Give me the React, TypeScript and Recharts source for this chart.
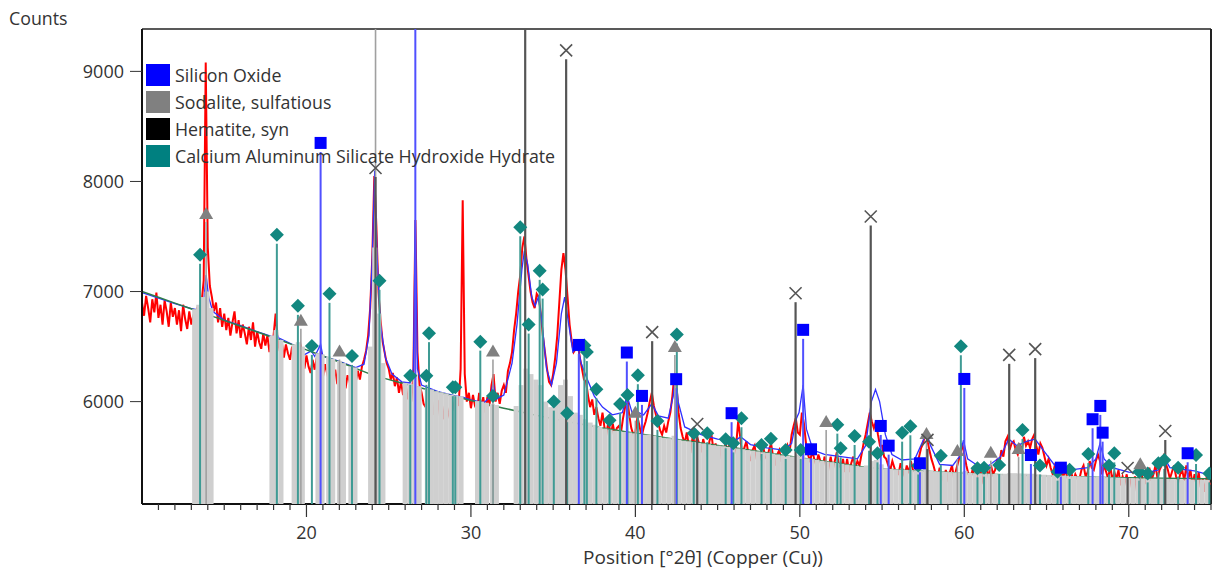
import { ComposedChart, Line, Scatter, XAxis, YAxis, ReferenceLine } from "recharts";

const WIDTH = 1217;
const HEIGHT = 574;
const MARGIN = { top: 29, right: 6, bottom: 0, left: 0 };
const Y_AXIS_W = 142;
const X_AXIS_H = 70;
const PLOT_TOP = MARGIN.top;
const PLOT_BOTTOM = HEIGHT - MARGIN.bottom - X_AXIS_H;

const X_MIN = 10;
const X_MAX = 75;
const Y_MIN = 5070;
const Y_MAX = 9385;

const FONT = "'Open Sans', 'Noto Sans', sans-serif";

const Y_TICKS = [6000, 7000, 8000, 9000];
const X_LABELS = [20, 30, 40, 50, 60, 70];
const X_TICKS = [
  11, 12, 13, 14, 15, 16, 17, 18, 19, 20, 21, 22, 23, 24, 25, 26, 27, 28, 29, 30,
  31, 32, 33, 34, 35, 36, 37, 38, 39, 40, 41, 42, 43, 44, 45, 46, 47, 48, 49, 50,
  51, 52, 53, 54, 55, 56, 57, 58, 59, 60, 61, 62, 63, 64, 65, 66, 67, 68, 69, 70,
  71, 72, 73, 74, 75,
];

// measured scan: starts at 10 deg, one reading every 0.125 deg (8 per row = 1 deg)
const SCAN_START = 10;
const SCAN_STEP = 0.125;
const scanCounts = [
  6900, 6780, 6960, 6850, 6720, 6930, 6810, 6990,
  6760, 6880, 6700, 6920, 6820, 6680, 6900, 6770,
  6850, 6700, 6830, 6640, 6880, 6750, 6660, 6820,
  6700, 6790, 6650, 6860, 6760, 6900, 7100, 9080,
  7400, 7050, 6950, 6820, 6900, 6720, 6850, 6680,
  6800, 6650, 6760, 6600, 6720, 6820, 6620, 6740,
  6580, 6700, 6620, 6520, 6680, 6560, 6720, 6500,
  6640, 6540, 6480, 6620, 6510, 6600, 6450, 6560,
  6600, 6800, 6560, 6460, 6540, 6400, 6520, 6440,
  6380, 6500, 6420, 6330, 6480, 6520, 6380, 6300,
  6420, 6320, 6260, 6380, 6290, 6400, 6240, 6460,
  6220, 6340, 6260, 6180, 6320, 6200, 6290, 6160,
  6300, 6150, 6260, 6120, 6240, 6180, 6100, 6250,
  6180, 6280, 6200, 6320, 6380, 6460, 6600, 6850,
  7300, 8050, 7600, 7000, 6750, 6550, 6450, 6350,
  6300, 6200, 6260, 6140, 6220, 6080, 6180, 6060,
  6120, 6020, 6150, 6000, 6250, 7650, 6450, 6150,
  6080, 5980, 5950, 6060, 5900, 6020, 5880, 5980,
  6000, 5860, 5960, 5840, 5980, 5900, 5830, 6000,
  5920, 6020, 5960, 6300, 7830, 6250, 6000, 6080,
  5940, 6060, 5960, 5920, 6080, 5950, 6040, 5900,
  6040, 5960, 6150, 6250, 6000, 6080, 5980, 6100,
  6150, 6080, 6280, 6350, 6450, 6650, 6800, 7000,
  7150, 7400, 7500, 7300, 7150, 7000, 6900, 6850,
  6980, 6950, 6800, 6600, 6450, 6300, 6180, 6150,
  6250, 6400, 6600, 6900, 7200, 7350, 7200, 6950,
  6700, 6550, 6450, 6480, 6520, 6400, 6300, 6200,
  6180, 6050, 5950, 6020, 5880, 5950, 5850, 5780,
  5900, 5760, 5720, 5830, 5680, 5800, 5700, 5760,
  5780, 5720, 5850, 5950, 6050, 5880, 5760, 5700,
  5720, 5860, 5780, 5680, 5760, 5820, 5900, 6000,
  6080, 5960, 5880, 5820, 5740, 5700, 5780, 5720,
  5820, 5900, 6050, 6250, 6150, 5900, 5760, 5680,
  5620, 5720, 5600, 5560, 5700, 5580, 5680, 5620,
  5540, 5660, 5580, 5500, 5640, 5700, 5560, 5620,
  5520, 5600, 5480, 5560, 5620, 5480, 5680, 5560,
  5520, 5600, 5820, 5680, 5500, 5580, 5640, 5520,
  5460, 5560, 5600, 5480, 5440, 5540, 5620, 5500,
  5480, 5560, 5620, 5500, 5420, 5520, 5560, 5460,
  5460, 5520, 5600, 5540, 5700, 5780, 5850, 5720,
  5700, 5900, 5800, 5620, 5520, 5450, 5560, 5480,
  5420, 5520, 5460, 5380, 5500, 5440, 5400, 5500,
  5380, 5460, 5540, 5420, 5400, 5480, 5360, 5480,
  5360, 5440, 5500, 5400, 5460, 5420, 5520, 5620,
  5700, 5800, 5900, 5820, 5760, 5820, 5700, 5600,
  5600, 5500, 5480, 5420, 5380, 5460, 5400, 5340,
  5340, 5440, 5380, 5320, 5420, 5350, 5460, 5380,
  5360, 5420, 5500, 5580, 5620, 5720, 5650, 5560,
  5480, 5420, 5350, 5300, 5400, 5320, 5280, 5380,
  5300, 5360, 5420, 5300, 5380, 5450, 5520, 5620,
  5520, 5420, 5340, 5300, 5380, 5320, 5270, 5360,
  5360, 5280, 5340, 5400, 5300, 5420, 5340, 5380,
  5480, 5420, 5560, 5500, 5640, 5680, 5560, 5620,
  5640, 5560, 5520, 5600, 5560, 5680, 5600, 5640,
  5580, 5660, 5700, 5600, 5520, 5620, 5580, 5500,
  5420, 5480, 5400, 5340, 5420, 5380, 5300, 5380,
  5300, 5380, 5320, 5260, 5360, 5280, 5340, 5300,
  5300, 5380, 5420, 5320, 5360, 5460, 5400, 5380,
  5460, 5520, 5460, 5340, 5420, 5360, 5300, 5420,
  5280, 5360, 5300, 5380, 5240, 5320, 5260, 5340,
  5200, 5300, 5240, 5320, 5180, 5280, 5380, 5240,
  5260, 5340, 5400, 5280, 5340, 5420, 5300, 5380,
  5420, 5500, 5440, 5380, 5300, 5360, 5420, 5320,
  5260, 5340, 5380, 5280, 5420, 5300, 5380, 5240,
  5340, 5240, 5360, 5220, 5300, 5180, 5330, 5260,
  5250,
];

// calculated profile
const calculated: [number, number][] = [
  [10, 6990], [12, 6890], [13, 6845], [13.5, 6830], [13.75, 6900], [13.9, 7150], [14.05, 6950],
  [14.3, 6820], [15, 6740], [16, 6690], [17, 6635], [18, 6585], [18.15, 6640], [18.3, 6580],
  [19, 6530], [19.65, 6480], [19.8, 6420], [20.3, 6460], [20.5, 6410], [20.86, 6520], [21.0, 6410],
  [21.5, 6390], [22, 6365], [23, 6310], [23.5, 6340], [23.8, 6600], [24.0, 7300], [24.15, 8100],
  [24.3, 7300], [24.5, 6700], [24.8, 6400], [25.2, 6250], [25.8, 6180], [26.3, 6170], [26.5, 6300],
  [26.62, 7650], [26.75, 6300], [27.0, 6150], [28, 6090], [29, 6055], [29.5, 6040], [30, 6015],
  [30.8, 5990], [31.2, 6050], [31.35, 6180], [31.5, 6020], [32, 6060], [32.5, 6350], [32.8, 6700],
  [33.1, 7200], [33.25, 7370], [33.45, 7250], [33.7, 6950], [33.9, 6870], [34.1, 6950], [34.3, 6750],
  [34.6, 6300], [34.9, 6150], [35.2, 6350], [35.5, 6800], [35.7, 6950], [35.9, 6750], [36.2, 6450],
  [36.5, 6500], [36.7, 6350], [37.0, 6230], [37.5, 6050], [38, 5950], [38.6, 5880], [39.2, 5900],
  [39.5, 6050], [39.8, 5900], [40.2, 5900], [40.5, 5880], [41.0, 5980], [41.4, 5870], [42.0, 5850],
  [42.3, 6050], [42.45, 6250], [42.6, 6000], [43, 5770], [44, 5700], [45, 5660], [46, 5640],
  [46.4, 5680], [47, 5610], [48, 5580], [49, 5560], [49.5, 5620], [49.8, 5850], [49.95, 5900],
  [50.2, 6150], [50.4, 5750], [50.8, 5560], [51.5, 5520], [52.5, 5500], [53.5, 5480], [54, 5600],
  [54.35, 6000], [54.6, 6110], [54.85, 6000], [55.2, 5700], [55.6, 5520], [56.2, 5470], [57, 5480],
  [57.5, 5650], [57.7, 5720], [57.95, 5600], [58.5, 5430], [59.3, 5420], [59.7, 5500], [59.95, 5650],
  [60.2, 5480], [60.8, 5420], [61.5, 5420], [62.2, 5500], [62.7, 5660], [63.2, 5600], [63.8, 5640],
  [64.3, 5660], [64.8, 5560], [65.5, 5420], [66.5, 5380], [67.5, 5400], [68, 5480], [68.25, 5620],
  [68.5, 5480], [69, 5400], [70, 5360], [71, 5350], [71.8, 5380], [72.2, 5480], [72.5, 5400],
  [73.5, 5380], [74, 5370], [75, 5330],
];

// fitted background
const background: [number, number][] = [
  [10, 7000], [12, 6895], [14, 6790], [16, 6685], [18, 6580], [20, 6470], [22, 6360], [24, 6245],
  [26, 6160], [28, 6085], [30, 6010], [32, 5940], [34, 5875], [36, 5815], [38, 5760], [40, 5712],
  [42, 5668], [44, 5625], [46, 5580], [48, 5535], [50, 5490], [52, 5448], [54, 5405], [56, 5380],
  [58, 5365], [60, 5350], [62, 5338], [64, 5328], [66, 5320], [68, 5313], [70, 5308], [72, 5303],
  [75, 5298],
];

// grey reference-line bars under the pattern
const greyBars: [number, number][] = [
  [13.2, 6840], [13.45, 6880], [13.7, 6950], [13.95, 7000], [14.2, 6850],
  [17.9, 6600], [18.15, 6650], [18.45, 6560],
  [19.25, 6520], [19.5, 6540], [19.75, 6500],
  [20.7, 6440], [20.95, 6430], [21.35, 6410], [21.6, 6390], [22.0, 6370], [22.25, 6350], [22.7, 6320], [22.95, 6310],
  [23.9, 6500], [24.15, 7400], [24.4, 6800], [24.65, 6350],
  [26.0, 6170], [26.3, 6160], [26.6, 6250], [26.85, 6140],
  [27.35, 6120], [27.6, 6110], [27.9, 6095], [28.2, 6085], [28.5, 6075], [28.8, 6062], [29.1, 6055], [29.4, 6050],
  [30.4, 6005], [30.65, 6000], [30.95, 5990], [31.3, 5980], [31.55, 5970],
  [32.75, 5960], [33.05, 6150], [33.35, 6300], [33.65, 6250], [33.95, 6200], [34.25, 6150], [34.55, 6000],
  [34.85, 5950], [35.15, 6000], [35.45, 6150], [35.75, 6200], [36.05, 6050], [36.35, 5900], [36.65, 5880],
  [36.95, 5840], [37.25, 5810], [37.55, 5790], [37.85, 5770], [38.15, 5755], [38.45, 5745], [38.75, 5735],
  [39.05, 5730], [39.35, 5725], [39.65, 5720], [39.95, 5712], [40.25, 5705], [40.55, 5700], [40.85, 5700],
  [41.15, 5690], [41.45, 5680], [41.75, 5672], [42.05, 5668], [42.35, 5690], [42.65, 5655], [42.95, 5645],
  [43.25, 5640], [43.55, 5632], [43.85, 5625], [44.15, 5620], [44.45, 5612], [44.75, 5605], [45.05, 5600],
  [45.35, 5595], [45.65, 5588], [45.95, 5580], [46.25, 5575], [46.55, 5568], [46.85, 5560], [47.15, 5555],
  [47.45, 5548], [47.75, 5540], [48.05, 5535], [48.35, 5528], [48.65, 5520], [48.95, 5512], [49.25, 5508],
  [49.55, 5502], [49.85, 5520], [50.15, 5530], [50.45, 5485], [50.75, 5478], [51.05, 5470], [51.35, 5462],
  [51.65, 5455], [51.95, 5450], [52.25, 5442], [52.55, 5435], [52.85, 5428], [53.15, 5422], [53.45, 5415],
  [53.75, 5410], [54.05, 5420], [54.35, 5460], [54.65, 5470], [54.95, 5430], [55.25, 5395], [55.55, 5388],
  [55.85, 5385], [56.15, 5382], [56.45, 5380], [56.75, 5378], [57.05, 5376], [57.35, 5374], [57.65, 5400],
  [57.95, 5372], [58.25, 5368], [58.55, 5365], [58.85, 5362], [59.15, 5360], [59.45, 5358], [59.75, 5360],
  [60.05, 5370], [60.35, 5352], [60.65, 5350], [60.95, 5348], [61.25, 5346], [61.55, 5345], [61.85, 5343],
  [62.15, 5342], [62.45, 5345], [62.75, 5350], [63.05, 5350], [63.35, 5348], [63.65, 5346], [63.95, 5345],
  [64.25, 5345], [64.55, 5340], [64.85, 5336], [65.15, 5334], [65.45, 5332], [65.75, 5330], [66.05, 5328],
  [66.35, 5326], [66.65, 5324], [66.95, 5322], [67.25, 5320], [67.55, 5318], [67.85, 5318], [68.15, 5320],
  [68.45, 5316], [68.75, 5314], [69.05, 5312], [69.35, 5310], [69.65, 5308], [69.95, 5306], [70.25, 5305],
  [70.55, 5303], [70.85, 5302], [71.15, 5300], [71.45, 5300], [71.75, 5300], [72.05, 5300], [72.35, 5298],
  [72.65, 5296], [72.95, 5295], [73.25, 5294], [73.55, 5293], [73.85, 5292], [74.15, 5290], [74.45, 5290],
  [74.75, 5290],
];

// phase reference lines: [2theta, marker height]
const silicaLines: [number, number][] = [
  [20.86, 8350], [26.62, 9385], [36.56, 6515], [39.48, 6446], [40.4, 6052], [42.48, 6204],
  [45.85, 5895], [50.2, 6652], [50.68, 5567], [54.92, 5779], [55.4, 5600], [57.3, 5440],
  [60.0, 6206], [64.05, 5515], [65.87, 5400], [67.8, 5840], [68.27, 5961], [68.41, 5718],
  [73.58, 5531],
];

const sodaliteLines: [number, number][] = [
  [13.9, 7713], [19.66, 6743], [22.01, 6464], [24.2, 9385], [31.34, 6464], [40.0, 5909],
  [42.4, 6506], [51.6, 5825], [57.7, 5715], [59.58, 5561], [61.61, 5545], [63.3, 5578],
  [70.7, 5440],
];

const hematiteLines: [number, number][] = [
  [24.2, 8122], [33.3, 9385], [35.79, 9191], [41.02, 6631], [43.76, 5797], [49.74, 6985],
  [54.31, 7682], [57.76, 5652], [62.73, 6425], [64.31, 6477], [69.93, 5397], [72.22, 5733],
];

const calciumLines: [number, number][] = [
  [13.53, 7334], [18.2, 7515], [19.48, 6870], [20.33, 6506], [21.4, 6979], [22.77, 6415],
  [24.44, 7097], [26.31, 6234], [27.29, 6234], [27.45, 6622], [28.9, 6131], [29.05, 6131],
  [30.57, 6545], [31.34, 6052], [33.0, 7585], [33.51, 6700], [34.18, 7188], [34.36, 7018],
  [35.04, 6000], [35.85, 5895], [36.9, 6510], [37.05, 6450], [37.63, 6113], [38.43, 5830],
  [39.07, 5978], [39.52, 6061], [40.15, 6240], [41.34, 5825], [42.52, 6610], [43.55, 5713],
  [44.37, 5713], [45.49, 5658], [45.95, 5621], [46.45, 5849], [47.67, 5606], [48.24, 5662],
  [49.14, 5561], [50.05, 5561], [52.28, 5791], [52.48, 5576], [53.33, 5688], [54.21, 5636],
  [54.72, 5530], [56.22, 5718], [56.72, 5776], [57.2, 5420], [58.57, 5508], [59.79, 6503],
  [60.8, 5394], [61.2, 5400], [62.12, 5424], [63.54, 5742], [64.6, 5420], [65.67, 5364],
  [66.4, 5380], [67.54, 5524], [68.8, 5420], [69.12, 5530], [70.64, 5364], [71.15, 5348],
  [71.8, 5440], [72.16, 5470], [73.0, 5400], [74.09, 5515], [74.9, 5348],
];

const phases = [
  { name: "Silicon Oxide", color: "#0000ff" },
  { name: "Sodalite, sulfatious", color: "#808080" },
  { name: "Hematite, syn", color: "#000000" },
  { name: "Calcium Aluminum Silicate Hydroxide Hydrate", color: "#008080" },
];

const toPoints = (rows: [number, number][]) => rows.map(([x, y]) => ({ x, y }));

const greyShape = (props: any) => {
  const { cx, cy } = props;
  return <rect x={cx - 2.5} y={cy} width={5} height={Math.max(0, PLOT_BOTTOM - cy)} fill="#cfcfcf" />;
};

const stickShape = (color: string, width: number) => (props: any) => {
  const { cx, cy } = props;
  const clipped = cy <= PLOT_TOP + 1;
  const top = clipped ? PLOT_TOP : cy + 9;
  return <line x1={cx} x2={cx} y1={top} y2={PLOT_BOTTOM} stroke={color} strokeWidth={width} />;
};

const markerShape = (kind: string, color: string) => (props: any) => {
  const { cx, cy } = props;
  if (cy <= PLOT_TOP + 1) return <g />;
  if (kind === "square") {
    return <rect x={cx - 6} y={cy - 6} width={12} height={12} fill={color} />;
  }
  if (kind === "diamond") {
    return <path d={`M${cx},${cy - 7}L${cx + 7},${cy}L${cx},${cy + 7}L${cx - 7},${cy}Z`} fill={color} />;
  }
  if (kind === "triangle") {
    return <path d={`M${cx},${cy - 6}L${cx + 7},${cy + 6}L${cx - 7},${cy + 6}Z`} fill={color} />;
  }
  return (
    <path
      d={`M${cx - 6},${cy - 6}L${cx + 6},${cy + 6}M${cx + 6},${cy - 6}L${cx - 6},${cy + 6}`}
      stroke={color}
      strokeWidth={1.6}
      fill="none"
    />
  );
};

function XTick({ x, y, payload }: any) {
  const v = payload.value;
  const major = X_LABELS.includes(v);
  return (
    <g>
      <line x1={x} x2={x} y1={y} y2={y + (major ? 13 : 6)} stroke="#333" strokeWidth={1.2} />
      {major && (
        <text x={x} y={y + 35} textAnchor="middle" fontSize={18} fill="#333" fontFamily={FONT}>
          {v}
        </text>
      )}
    </g>
  );
}

export default function App() {
  const obs = scanCounts.map((y, i) => ({ x: SCAN_START + i * SCAN_STEP, y }));
  const calc = toPoints(calculated);
  const bg = toPoints(background);
  const grey = toPoints(greyBars);
  const silica = toPoints(silicaLines);
  const sodalite = toPoints(sodaliteLines);
  const hematite = toPoints(hematiteLines);
  const calcium = toPoints(calciumLines);

  return (
    <div style={{ position: "absolute", left: 0, top: 0, width: WIDTH, height: HEIGHT, background: "#fff", fontFamily: FONT }}>
      <ComposedChart width={WIDTH} height={HEIGHT} margin={MARGIN}>
        <XAxis
          type="number"
          dataKey="x"
          domain={[X_MIN, X_MAX]}
          allowDataOverflow
          ticks={X_TICKS}
          interval={0}
          height={X_AXIS_H}
          tickSize={0}
          tickMargin={0}
          tickLine={false}
          axisLine={{ stroke: "#111", strokeWidth: 2 }}
          tick={XTick}
        />
        <YAxis
          type="number"
          dataKey="y"
          domain={[Y_MIN, Y_MAX]}
          allowDataOverflow
          ticks={Y_TICKS}
          width={Y_AXIS_W}
          tickSize={12}
          tickMargin={6}
          axisLine={{ stroke: "#111", strokeWidth: 2 }}
          tickLine={{ stroke: "#333" }}
          tick={{ fill: "#333", fontSize: 18, fontFamily: FONT }}
        />
        <ReferenceLine y={Y_MAX} stroke="#222" strokeWidth={1.5} />
        <ReferenceLine x={X_MAX} stroke="#222" strokeWidth={2} />

        <Scatter data={grey} shape={greyShape} isAnimationActive={false} />
        <Scatter data={calcium} shape={stickShape("#3f9b94", 2)} isAnimationActive={false} />
        <Scatter data={silica} shape={stickShape("#5050ff", 2)} isAnimationActive={false} />
        <Scatter data={sodalite} shape={stickShape("#a0a0a0", 1.6)} isAnimationActive={false} />
        <Scatter data={hematite} shape={stickShape("#555555", 2.2)} isAnimationActive={false} />

        <Line data={obs} dataKey="y" type="linear" stroke="#ff0000" strokeWidth={2} dot={false} isAnimationActive={false} />
        <Line data={calc} dataKey="y" type="linear" stroke="#3030ff" strokeWidth={1.3} dot={false} isAnimationActive={false} />
        <Line data={bg} dataKey="y" type="monotone" stroke="#2f7d4a" strokeWidth={1.5} dot={false} isAnimationActive={false} />

        <Scatter data={calcium} shape={markerShape("diamond", "#12877f")} isAnimationActive={false} />
        <Scatter data={sodalite} shape={markerShape("triangle", "#808080")} isAnimationActive={false} />
        <Scatter data={silica} shape={markerShape("square", "#0000ff")} isAnimationActive={false} />
        <Scatter data={hematite} shape={markerShape("cross", "#555555")} isAnimationActive={false} />
      </ComposedChart>

      <div style={{ position: "absolute", left: 9, top: 6, fontSize: 17.8, color: "#333" }}>Counts</div>
      <div style={{ position: "absolute", left: 146, top: 61 }}>
        {phases.map((p) => (
          <div key={p.name} style={{ display: "flex", alignItems: "center", height: 27 }}>
            <div style={{ width: 24, height: 22, background: p.color, marginRight: 5 }} />
            <span style={{ fontSize: 17.8, color: "#333", whiteSpace: "nowrap" }}>{p.name}</span>
          </div>
        ))}
      </div>
      <div
        style={{
          position: "absolute",
          left: 703,
          top: 557,
          transform: "translate(-50%, -50%)",
          fontSize: 19,
          color: "#333",
          whiteSpace: "nowrap",
        }}
      >
        Position [°2θ] (Copper (Cu))
      </div>
    </div>
  );
}
